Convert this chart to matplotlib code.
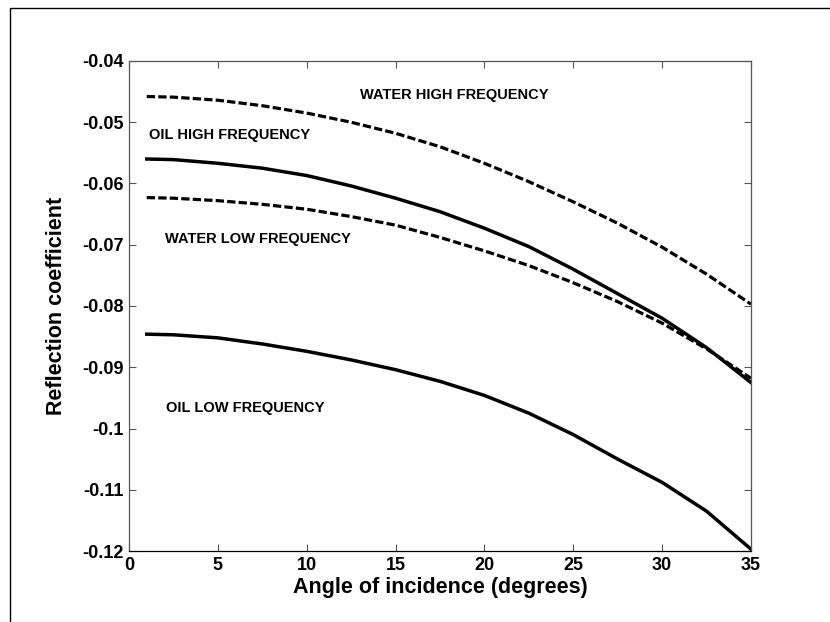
import matplotlib
matplotlib.use('Agg')
import matplotlib.pyplot as plt
from matplotlib.lines import Line2D

plt.rcParams['font.family'] = ['Liberation Sans', 'DejaVu Sans']

# angle of incidence (degrees)
angle = [1, 2.5, 5, 7.5, 10, 12.5, 15, 17.5, 20, 22.5, 25, 27.5, 30, 32.5, 35]

# reflection coefficients
water_high = [-0.0458, -0.0459, -0.0464, -0.0473, -0.0485, -0.0500, -0.0518, -0.0540,
              -0.0567, -0.0597, -0.0630, -0.0665, -0.0704, -0.0748, -0.0797]
oil_high = [-0.0560, -0.0561, -0.0567, -0.0575, -0.0587, -0.0604, -0.0624, -0.0646,
            -0.0673, -0.0703, -0.0740, -0.0780, -0.0820, -0.0868, -0.0925]
water_low = [-0.0623, -0.0624, -0.0628, -0.0634, -0.0642, -0.0654, -0.0668, -0.0688,
             -0.0710, -0.0734, -0.0762, -0.0793, -0.0828, -0.0870, -0.0918]
oil_low = [-0.0846, -0.0847, -0.0852, -0.0862, -0.0874, -0.0888, -0.0904, -0.0923,
           -0.0946, -0.0975, -0.1010, -0.1050, -0.1088, -0.1135, -0.1197]

xticks = [0, 5, 10, 15, 20, 25, 30, 35]
yticks = [-0.04, -0.05, -0.06, -0.07, -0.08, -0.09, -0.1, -0.11, -0.12]

fig = plt.figure(figsize=(8.3, 6.22), dpi=100)
ax = fig.add_axes([129/830, 1-551/622, (751-129)/830, (551-61)/622])

dash = (0, (2.6, 1.0))
ax.plot(angle, water_high, color='black', lw=2.3, linestyle=dash)
ax.plot(angle, oil_high, color='black', lw=2.5)
ax.plot(angle, water_low, color='black', lw=2.3, linestyle=dash)
ax.plot(angle, oil_low, color='black', lw=2.5)

# 曲線標註
lab = dict(fontsize=10.5, fontweight='bold', ha='left', va='center')
ax.text(13.0, -0.0455, 'WATER HIGH FREQUENCY', **lab)
ax.text(1.1, -0.0521, 'OIL HIGH FREQUENCY', **lab)
ax.text(2.0, -0.0690, 'WATER LOW FREQUENCY', **lab)
ax.text(2.1, -0.0967, 'OIL LOW FREQUENCY', **lab)

ax.set_xlim(0, 35)
ax.set_ylim(-0.12, -0.04)
ax.set_xticks(xticks)
ax.set_xticklabels([str(t) for t in xticks])
ax.set_yticks(yticks)
ax.set_yticklabels(['%g' % t for t in yticks])
ax.tick_params(direction='in', top=True, right=True, length=5, width=0.8,
               colors='#555555', labelcolor='black', labelsize=13, pad=4)
for lbl in ax.get_xticklabels() + ax.get_yticklabels():
    lbl.set_fontweight('bold')
for sp in ax.spines.values():
    sp.set_linewidth(0.9)
    sp.set_color('#555555')
ax.spines['bottom'].set_color('black')

ax.set_xlabel('Angle of incidence (degrees)', fontsize=15.5, fontweight='bold', va='center')
ax.set_ylabel('Reflection coefficient', fontsize=15.5, fontweight='bold', va='center')
ax.xaxis.set_label_coords(0.5, (551-587)/490)
ax.yaxis.set_label_coords((57-129)/622, 0.5)

# 外框線 (上, 左)
fig.add_artist(Line2D([9.5/830, 9.5/830, 1], [0, 1-7.5/622, 1-7.5/622],
                      transform=fig.transFigure, color='black', lw=1.0))

fig.savefig('out.png', dpi=100, facecolor='white')
